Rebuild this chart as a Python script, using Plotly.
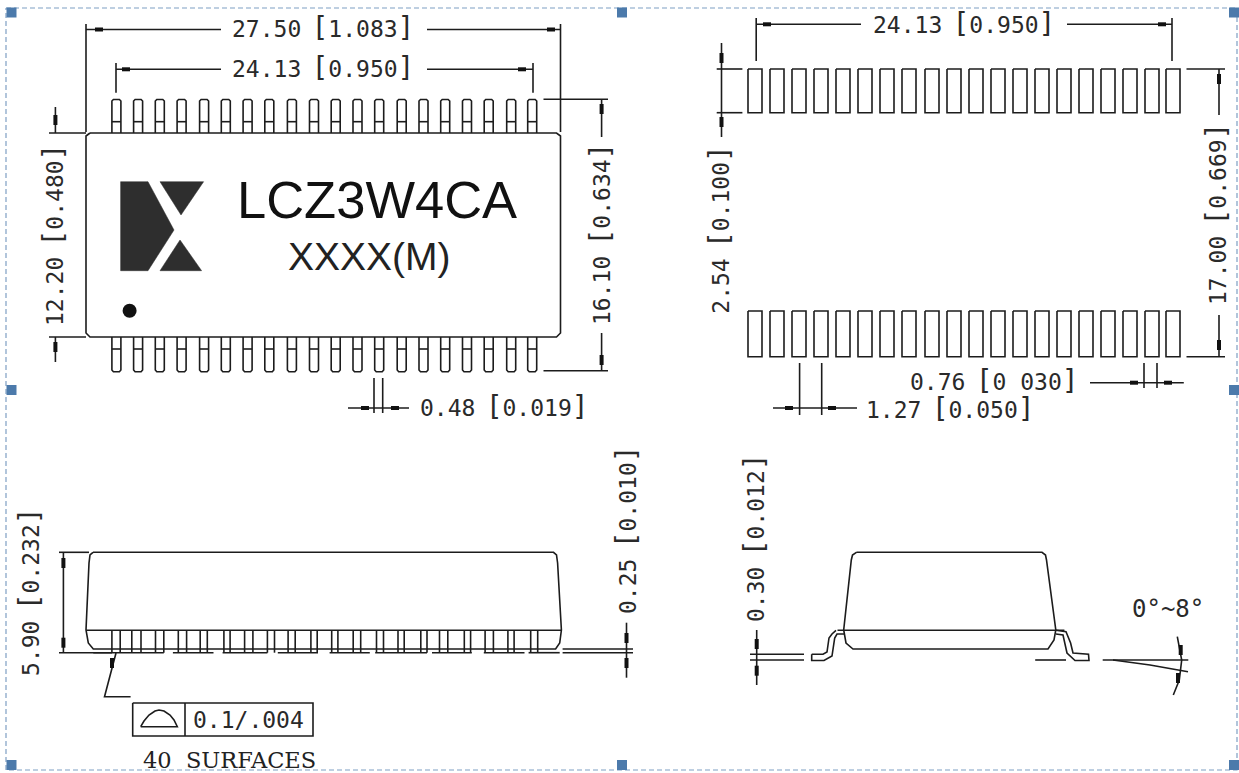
import plotly.graph_objects as go

# ---- colours / geometry data (px-like drawing units) ----
INK = "#1c1c1c"
TOP_LEAD_X = [111.9,133.6,155.3,177.1,199.6,221.3,243.1,264.8,287.4,309.5,331.2,353.0,374.7,397.2,419.0,440.7,462.5,484.2,506.7,527.7]
PAD_X = [748,770,792,814,836,858,880,902,925,947,969,991,1013,1035,1057,1079,1101,1123,1145,1166]
SIDE_LEAD_X = [111.9,120.2,131.8,141,155.5,163.8,178.3,186.6,200.2,207.3,223.9,230.1,244.6,252.9,267.4,274.5,288.1,295.2,310.9,317.2,
               331.7,337.9,353.2,360.7,376.5,383.5,398,404.2,420.8,427,439.5,447.8,464.3,470.6,485.1,493.4,507.9,514.1,530.7,537.7]
SIDE_FOOT_SPANS = [(93.3,163.8),(172.9,213.5),(222.6,267.4),(277.8,318),(329.6,369.8),(375.2,427),(432,471.8),(483.8,524.5),(528.6,559.7)]

BODY_OUTLINE = [(90,133),(556.5,133),(560.5,136),(560.5,333),(556.5,337),(90,337),(86,333),(86,136),(90,133)]
SIDE_BODY = [(93,552.3),(553.5,552.3),(556.5,555),(557.6,563),(561.4,630),(559.7,643),(555.6,649),(93.3,649),(88.3,643),(86,630),(89,563),(90,555),(93,552.3)]
END_BODY = [(856.4,552.3),(1042,552.3),(1045.5,555),(1046.5,560),(1055.8,630),(1054,640),(1048,649),(853,649),(846,643),(843.7,630),(851.3,560),(852.5,555),(856.4,552.3)]

LINES = [
    # 27.50 dimension
    [(86,24),(86,132)], [(560.5,24),(560.5,132)], [(86,29.5),(221,29.5)], [(427,29.5),(560.5,29.5)],
    # 24.13 dimension
    [(116,63),(116,92.7)], [(533,63),(533,92.7)], [(116,69.3),(221,69.3)], [(427,69.3),(533,69.3)],
    # 12.20 dimension
    [(55.4,107),(55.4,133)], [(55.4,337),(55.4,362)], [(49,133),(86,133)], [(49,337),(86,337)],
    # 16.10 dimension
    [(543.5,99.3),(608,99.3)], [(543.5,370.7),(608,370.7)], [(601.6,99.3),(601.6,137)], [(601.6,333),(601.6,370.7)],
    # 0.48 dimension
    [(374,378),(374,413)], [(382.7,378),(382.7,413)], [(348,408),(409,408)],
    # top right 24.13
    [(756.2,18),(756.2,61)], [(1172,18),(1172,61)], [(756.2,24.3),(861,24.3)], [(1067,24.3),(1172,24.3)],
    # 2.54
    [(721.5,43),(721.5,137)], [(716.7,69),(742.4,69)], [(716.7,112.7),(742.4,112.7)],
    # 17.00
    [(1186.5,69),(1225,69)], [(1186.5,356.7),(1225,356.7)], [(1219,69),(1219,115)], [(1219,315),(1219,356.7)],
    # 0.76
    [(1090,382.7),(1183.8,382.7)], [(1144,363),(1144,388)], [(1157,363),(1157,388)],
    # 1.27
    [(799.6,363),(799.6,415)], [(821.7,363),(821.7,415)], [(773,408),(857,408)],
    # side view
    [(86,630.3),(561,630.3)], [(59,552.3),(89,552.3)], [(59,652.7),(112,652.7)], [(63.4,552.3),(63.4,652.7)],
    [(562.6,649),(633,649)], [(562.6,652.7),(633,652.7)], [(626.5,622.7),(626.5,677.7)],
    [(116,653),(104.5,696.7),(130.6,696.7)],
    # tolerance box
    [(132.7,703),(313,703),(313,736),(132.7,736),(132.7,703)], [(185,703),(185,736)],
    [(140.7,726.7),(177.3,726.7),(174,720),(170,715),(164,711),(159,710),(155,711),(149,715),(144,721),(140.7,726.7)],
    # end view
    [(837.5,630.3),(1064.4,630.3)],
    [(811.7,654.3),(823,654.3),(827,652),(829,638),(832,634),(836,630.3)],
    [(811.7,654.3),(811.7,660.5),(824,660.5),(832,656),(834.7,638),(837,634),(844,634)],
    [(1056,630.3),(1066,631.7),(1070.6,643),(1073,653),(1088.5,654.3),(1089,660.5),(1075,660.5),(1067,653),(1063,635),(1056,634)],
    [(1035.2,660),(1066,660)],
    [(750,654.3),(804,654.3)], [(750,660),(804,660)], [(756.7,630),(756.7,685)],
    [(1102.7,660),(1188.3,660)], [(1113,660),(1150,665),(1188,671.7)],
    [(1177.3,636.7),(1181.7,660),(1179.3,680),(1173.3,695)],
]

H_ARROW_X = [99,551,126,522,365,395,767,1162,1134,1168,789,832]
H_ARROW_Y = [29.5,29.5,69.3,69.3,408,408,24.3,24.3,382.7,382.7,408,408]
V_ARROW_X = [55.4,55.4,601.6,601.6,721.5,721.5,1219,1219,63.4,63.4,626.5,626.5,112,756.7,756.7,1180.7,1178]
V_ARROW_Y = [120,347,109,360,58,122,79,345,563,642.7,638,663,663,644,670.7,650,678]

LOGO_SHAPES = [
    [(120.6,181.7),(148,181.7),(174,230),(148,270.7),(120.6,270.7),(120.6,181.7)],
    [(160,181.7),(203.6,181.7),(181,215),(160,181.7)],
    [(160,270.7),(201.6,270.7),(180,240),(160,270.7)],
]

FRAME_X = [6,1237,1237,6,6]
FRAME_Y = [8,8,770,770,8]
HANDLE_X = [11.5,622,1234,11.5,1234,11.5,622,1234]
HANDLE_Y = [12.5,12.5,12.5,390,390,765,765,765]

# main, inch, x, y, angle
DIM_LABELS = [
    ("27.50", "1.083", 323, 27, 0), ("24.13", "0.950", 323, 67, 0), ("24.13", "0.950", 964.4, 23, 0),
    ("12.20", "0.480", 53, 235, -90), ("16.10", "0.634", 600, 234, -90), ("0.48", "0.019", 504, 406, 0),
    ("2.54", "0.100", 718.7, 229, -90), ("17.00", "0.669", 1216, 214, -90), ("0.76", "0 030", 994, 380, 0),
    ("1.27", "0.050", 950.7, 408, 0), ("5.90", "0.232", 29, 592, -90), ("0.25", "0.010", 626, 530, -90),
    ("0.30", "0.012", 754, 538, -90),
]

fig = go.Figure()

def poly_trace(polys, color=INK, width=1.6, fill=None, dash=None):
    xs, ys = [], []
    for p in polys:
        xs += [q[0] for q in p] + [None]
        ys += [q[1] for q in p] + [None]
    fig.add_trace(go.Scatter(x=xs, y=ys, mode="lines", hoverinfo="skip", showlegend=False,
                             fill=fill, fillcolor=color if fill else None,
                             line=dict(color=color, width=width, dash=dash, shape="linear")))

# frame + handles
poly_trace([list(zip(FRAME_X, FRAME_Y))], color="#7f9fc4", width=1.2, dash="5px,3px")
fig.add_trace(go.Scatter(x=HANDLE_X, y=HANDLE_Y, mode="markers", hoverinfo="skip", showlegend=False,
                         marker=dict(symbol="square", size=10, color="#4c7aab", line=dict(width=0))))

# leads top-left view
polys = []
w = 9
for x in TOP_LEAD_X:
    polys.append([(x,133),(x,101),(x+1.5,99.5),(x+w-1.5,99.5),(x+w,101),(x+w,133)])
    polys.append([(x,121.7),(x+w,121.7)])
    polys.append([(x,337),(x,370),(x+1.5,371.7),(x+w-1.5,371.7),(x+w,370),(x+w,337)])
    polys.append([(x,349),(x+w,349)])
# land pattern pads
pw = 14
for x in PAD_X:
    polys.append([(x,69),(x+pw,69),(x+pw,112.7),(x,112.7),(x,69)])
    polys.append([(x,311),(x+pw,311),(x+pw,356.7),(x,356.7),(x,311)])
# side-view leads
for x in SIDE_LEAD_X:
    polys.append([(x,630.3),(x,652.7)])
for a, b in SIDE_FOOT_SPANS:
    polys.append([(a,652.7),(b,652.7)])
polys += [BODY_OUTLINE, SIDE_BODY, END_BODY] + LINES
poly_trace(polys)

# arrowheads (short thick strokes along the dimension line)
arrows = [[(x-4,y),(x+4,y)] for x, y in zip(H_ARROW_X, H_ARROW_Y)]
arrows += [[(x,y-5),(x,y+5)] for x, y in zip(V_ARROW_X, V_ARROW_Y)]
poly_trace(arrows, color="#111111", width=4)
# logo
for shape in LOGO_SHAPES:
    poly_trace([shape], color="#2e2e2e", width=0.5, fill="toself")
# pin-1 dot
fig.add_trace(go.Scatter(x=[129.6], y=[310.7], mode="markers", hoverinfo="skip", showlegend=False,
                         marker=dict(size=14, color="#111", line=dict(width=0))))

MONO = "DejaVu Sans Mono"
def label(txt, x, y, size=23, font=MONO, angle=0, color="#2a2a2a"):
    fig.add_annotation(x=x, y=y, xref="x", yref="y", text=txt, showarrow=False, textangle=angle,
                       xanchor="center", yanchor="middle", borderpad=0,
                       font=dict(family=font, size=size, color=color))

for a, b, x, y, ang in DIM_LABELS:
    txt = (f"{a}<span style='font-size:17px'>\u00a0</span><span style='font-size:28px'>[</span>{b}"
           f"<span style='font-size:28px'>]</span>")
    label(txt, x, y, angle=ang)

label("0.1/.004", 248, 720, size=23)
label("0\u00b0~8\u00b0", 1167.5, 609, size=24)
label("LCZ3W4CA", 376.5, 199, size=52.5, font="Liberation Sans", color="#111")
label("XXXX(M)", 369, 256, size=39, font="Liberation Sans", color="#222")
label("40\u00a0\u00a0SURFACES", 229, 759.5, size=22.5, font="DejaVu Serif", color="#222")

fig.update_layout(width=1239, height=773, margin=dict(l=0, r=0, t=0, b=0),
                  paper_bgcolor="white", plot_bgcolor="white", showlegend=False,
                  xaxis=dict(range=[0,1239], visible=False, fixedrange=True),
                  yaxis=dict(range=[773,0], visible=False, fixedrange=True))

fig.write_html("out.html", config={"displayModeBar": False},
               post_script="document.body.style.margin='0';document.body.style.overflow='hidden';")
